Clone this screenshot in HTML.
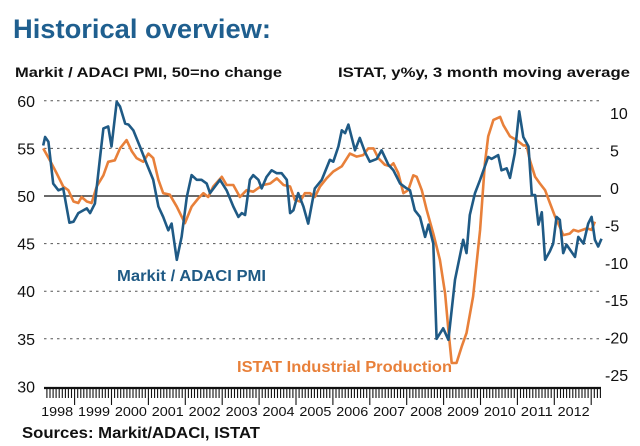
<!DOCTYPE html>
<html><head><meta charset="utf-8">
<style>
body{margin:0;background:#fff;width:640px;height:446px;overflow:hidden;font-family:"Liberation Sans",sans-serif}
svg{display:block}
</style></head>
<body>
<svg id="chart" width="640" height="446" viewBox="0 0 640 446" xmlns="http://www.w3.org/2000/svg">
<text x="13" y="38" font-size="27" font-weight="bold" fill="#1f5f8f" textLength="258" lengthAdjust="spacingAndGlyphs">Historical overview:</text>
<text x="15" y="77" font-size="14" font-weight="bold" fill="#111" textLength="267" lengthAdjust="spacingAndGlyphs">Markit / ADACI PMI, 50=no change</text>
<text x="338" y="77" font-size="14" font-weight="bold" fill="#111" textLength="292" lengthAdjust="spacingAndGlyphs">ISTAT, y%y, 3 month moving average</text>
<g id="grid"></g>
<g id="axes"></g>
<g id="series"></g>
<text x="117" y="281" font-size="16" font-weight="bold" fill="#1f5a85" textLength="149" lengthAdjust="spacingAndGlyphs">Markit / ADACI PMI</text>
<text x="237" y="372" font-size="16" font-weight="bold" fill="#e8803a" textLength="215" lengthAdjust="spacingAndGlyphs">ISTAT Industrial Production</text>
<text x="22" y="438" font-size="16" font-weight="bold" fill="#111" textLength="238" lengthAdjust="spacingAndGlyphs">Sources: Markit/ADACI, ISTAT</text>
</svg>
<script>
const leftTicks=[60,55,50,45,40,35,30];
const rightTicks=[10,5,0,-5,-10,-15,-20,-25];
const years=[1998,1999,2000,2001,2002,2003,2004,2005,2006,2007,2008,2009,2010,2011,2012];
const pmiDates=[1998.15,1998.20,1998.29,1998.42,1998.56,1998.69,1998.86,1998.97,1999.10,1999.33,1999.42,1999.55,1999.69,1999.78,1999.91,2000.00,2000.14,2000.23,2000.37,2000.46,2000.59,2000.77,2000.95,2001.13,2001.27,2001.40,2001.54,2001.63,2001.77,2001.90,2002.04,2002.17,2002.31,2002.44,2002.58,2002.67,2002.94,2003.12,2003.30,2003.44,2003.53,2003.62,2003.75,2003.84,2003.98,2004.07,2004.20,2004.34,2004.48,2004.61,2004.75,2004.84,2004.93,2005.06,2005.20,2005.33,2005.51,2005.70,2005.92,2006.01,2006.15,2006.24,2006.33,2006.42,2006.60,2006.73,2006.87,2007.00,2007.19,2007.32,2007.50,2007.64,2007.82,2008.00,2008.09,2008.22,2008.36,2008.50,2008.59,2008.72,2008.81,2008.99,2009.13,2009.31,2009.53,2009.62,2009.71,2009.85,2009.99,2010.21,2010.30,2010.48,2010.57,2010.71,2010.80,2010.93,2011.05,2011.16,2011.30,2011.39,2011.48,2011.57,2011.66,2011.75,2011.88,2011.97,2012.06,2012.15,2012.24,2012.33,2012.56,2012.65,2012.79,2012.92,2013.01,2013.10,2013.19,2013.28];
const pmiValues=[55.3,56.2,55.7,51.3,50.6,50.8,47.2,47.3,48.2,48.7,48.2,49.2,54.1,57.1,57.3,55.2,59.9,59.4,57.6,57.5,56.9,55.2,53.4,51.7,48.9,47.8,46.4,47.1,43.3,45.7,49.9,52.2,51.7,51.7,51.3,50.3,51.7,50.6,48.9,47.8,48.2,48.0,51.7,52.2,51.7,50.8,52.0,52.7,52.4,52.4,51.7,48.2,48.5,50.3,48.9,47.1,50.8,51.7,53.8,53.6,55.2,56.9,56.6,57.5,54.8,56.1,54.6,53.6,53.9,54.8,53.3,52.7,51.3,50.8,50.6,48.5,47.8,45.7,47.0,45.0,35.0,36.1,34.9,41.2,45.4,44.0,48.0,50.3,51.7,54.1,53.9,54.3,52.7,52.9,51.9,54.5,58.9,56.2,55.2,50.1,50.1,47.0,48.3,43.3,44.2,45.0,47.8,47.5,44.0,44.9,43.6,45.7,45.0,47.1,47.8,45.4,44.7,45.5];
const ipDates=[1998.15,1998.33,1998.51,1998.69,1998.83,1998.97,1999.10,1999.19,1999.33,1999.46,1999.60,1999.78,1999.91,2000.09,2000.23,2000.41,2000.55,2000.68,2000.86,2001.00,2001.13,2001.27,2001.40,2001.58,2001.77,2001.99,2002.17,2002.35,2002.49,2002.62,2002.76,2002.99,2003.12,2003.30,2003.48,2003.66,2003.84,2003.98,2004.11,2004.30,2004.48,2004.66,2004.84,2004.97,2005.11,2005.24,2005.38,2005.51,2005.65,2005.83,2006.01,2006.24,2006.46,2006.64,2006.82,2006.96,2007.10,2007.23,2007.41,2007.55,2007.64,2007.77,2007.91,2008.04,2008.18,2008.27,2008.41,2008.54,2008.72,2008.90,2009.04,2009.13,2009.22,2009.35,2009.49,2009.62,2009.80,2009.99,2010.12,2010.21,2010.35,2010.53,2010.62,2010.80,2010.98,2011.16,2011.25,2011.34,2011.48,2011.61,2011.75,2011.88,2012.02,2012.15,2012.24,2012.42,2012.52,2012.65,2012.88,2013.01,2013.10];
const ipValues=[5.3,3.7,2.0,0.2,-0.3,-1.8,-2.0,-1.2,-1.8,-2.0,0.2,1.7,3.5,3.7,5.3,6.4,4.9,4.0,3.5,4.6,4.0,1.1,-0.7,-0.9,-2.5,-4.7,-2.5,-1.4,-0.7,-1.2,0.2,1.5,0.4,0.4,-1.2,-0.3,-0.5,0.0,0.4,0.6,1.3,0.4,0.2,-1.6,-1.8,-0.7,-0.7,-1.2,0.2,1.3,2.2,2.9,4.6,4.2,4.4,5.3,5.3,4.0,3.1,2.9,3.3,2.0,-0.7,-0.3,1.7,1.5,-0.3,-2.9,-6.1,-9.6,-14.1,-19.0,-23.4,-23.4,-21.2,-19.4,-14.5,-5.6,3.3,6.9,9.1,9.5,8.4,6.9,6.4,5.7,5.7,3.7,1.5,0.6,-0.3,-2.0,-3.8,-5.2,-6.3,-6.1,-5.6,-5.8,-5.4,-5.6,-4.5];

const NS='http://www.w3.org/2000/svg';
const X0=44,X1=601;
const xT=t=>74.6+(t-1999)*36.9;
const yL=v=>196-(v-50)*9.52;
const yR=v=>188-v*7.48;
function mk(tag,attrs,parent){const e=document.createElementNS(NS,tag);for(const k in attrs)e.setAttribute(k,attrs[k]);parent.appendChild(e);return e;}
const grid=document.getElementById('grid'),axes=document.getElementById('axes'),series=document.getElementById('series');

leftTicks.forEach(v=>{
  const y=yL(v);
  if(v>30){
    const l=mk('line',{x1:X0,x2:X1,y1:y,y2:y,stroke:v===50?'#111':'#555','stroke-width':v===50?1.3:1,'stroke-dasharray':v===50?'none':'2.5,4'},grid);
    
    
  }
  const t=mk('text',{x:35,y:y+6,'text-anchor':'end','font-size':16,fill:'#111'},axes);
  t.textContent=v;
  
  
});
rightTicks.forEach(v=>{
  const t=mk('text',{x:v<0?605:610,y:yR(v)+6,'font-size':16,fill:'#111'},axes);
  t.textContent=v;
  
  
});
const ax=mk('line',{x1:X0,x2:X1,y1:388,y2:388,stroke:'#111','stroke-width':2.2},axes);


let ticks='';
for(let m=0;;m++){const t=1998+m/12;const x=xT(t);if(x>X1)break;if(x<X0)continue;const yr=(m%12===0);ticks+=`M${x.toFixed(1)},388V${yr?405:398}`;}
const tp=mk('path',{d:ticks,stroke:'#111','stroke-width':1.1},axes);


years.forEach(y=>{
  const t=mk('text',{x:xT(y+1)-1.5,y:416,'text-anchor':'end','font-size':13,fill:'#111',textLength:32,lengthAdjust:'spacingAndGlyphs'},axes);
  t.textContent=y;
  
  
});
function line(dates,vals,yf,color,name){
  const d=dates.map((t,i)=>(i?'L':'M')+xT(t).toFixed(1)+','+yf(vals[i]).toFixed(1)).join('');
  const p=mk('path',{d:d,fill:'none',stroke:color,'stroke-width':2.6,'stroke-linejoin':'round'},series);
  
  
}
line(ipDates,ipValues,yR,'#e8803a','istat-industrial-production-line');
line(pmiDates,pmiValues,yL,'#1f5a85','markit-adaci-pmi-line');
</script>
</body></html>
